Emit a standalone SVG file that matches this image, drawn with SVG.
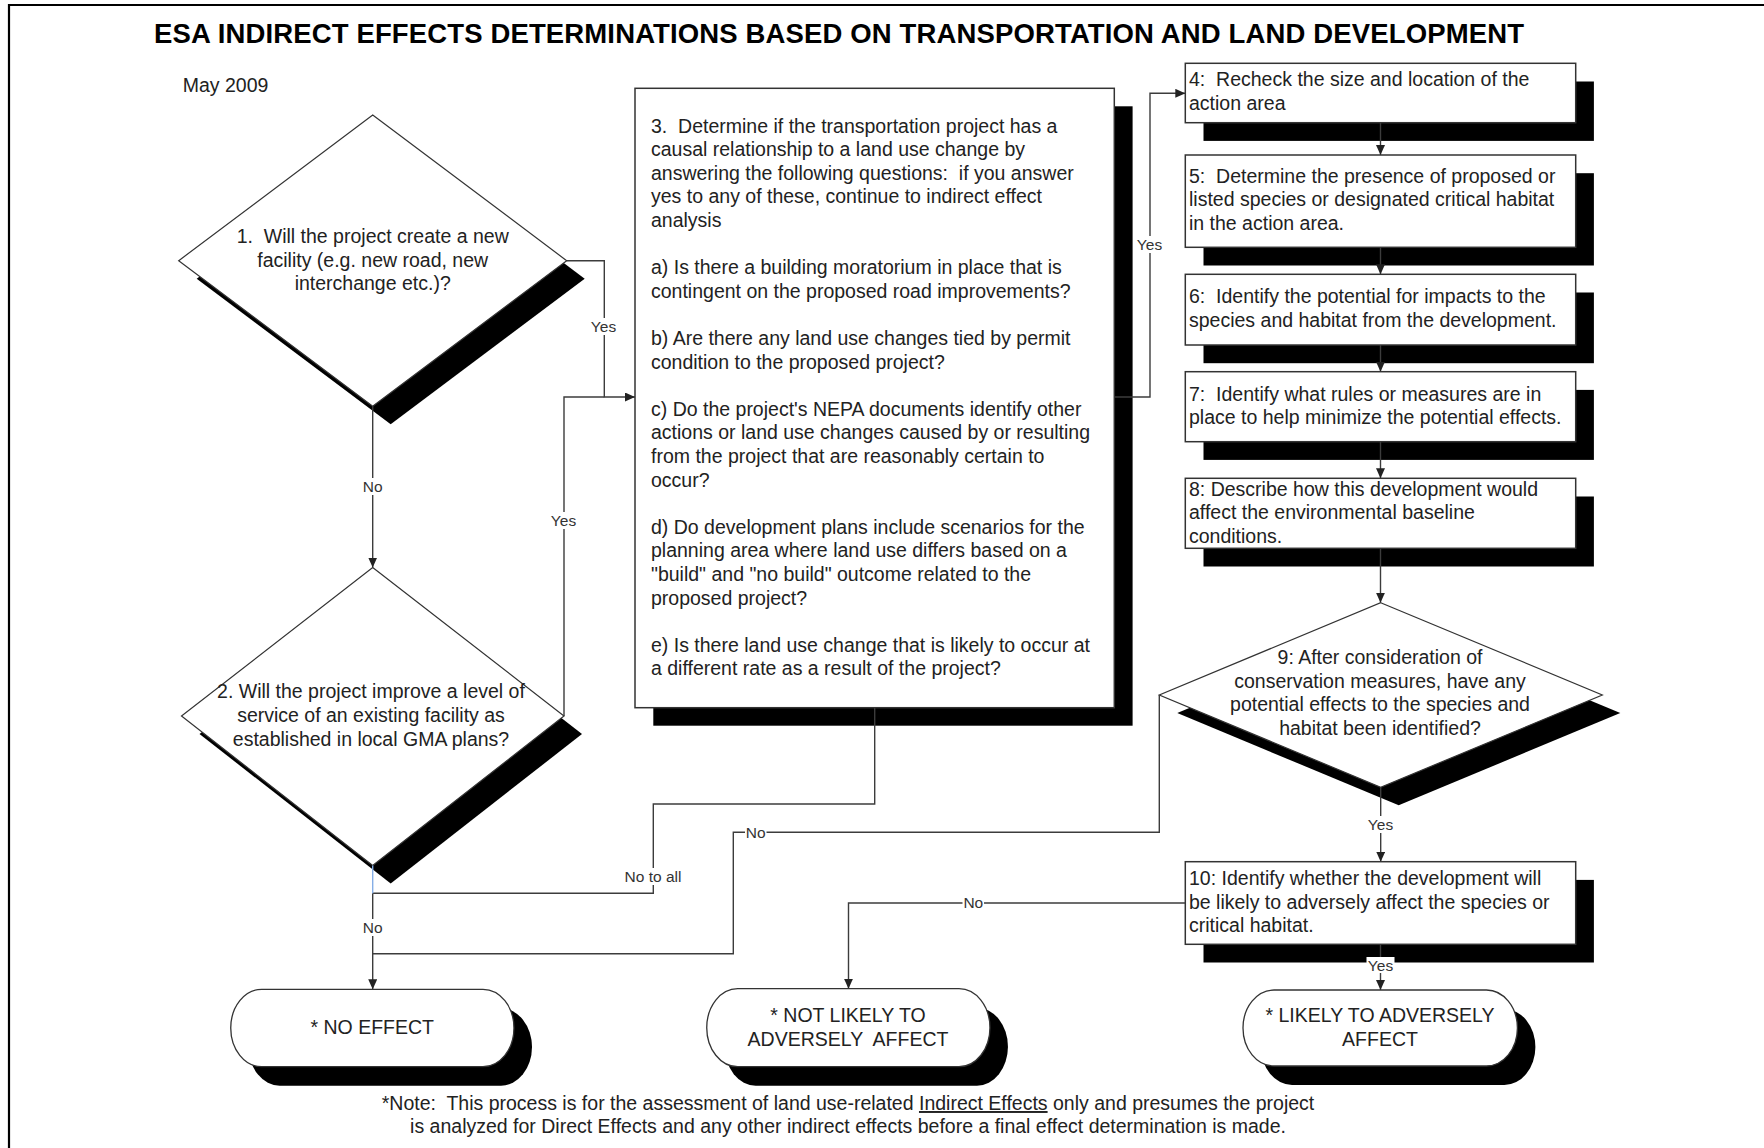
<svg xmlns="http://www.w3.org/2000/svg" width="1764" height="1148" viewBox="0 0 1764 1148">
<style>
.bg{fill:#fff}
.frame{fill:none;stroke:#000;stroke-width:2.2}
.box{fill:#fff;stroke:#333;stroke-width:1.5}
.shd{fill:#000}
.t{font-family:"Liberation Sans",Arial,sans-serif;font-size:19.5px;fill:#222;white-space:pre}
.c{text-anchor:middle}
.title{font-family:"Liberation Sans",Arial,sans-serif;font-size:27.5px;font-weight:bold;fill:#000;text-anchor:middle}
.conn{fill:none;stroke:#3c3c3c;stroke-width:1.4}
.lblbg{fill:#fff}
.lbl{font-family:"Liberation Sans",Arial,sans-serif;font-size:15.5px;fill:#333;text-anchor:middle}
</style>
<defs>
<marker id="arr" markerUnits="userSpaceOnUse" markerWidth="10" markerHeight="9" refX="10" refY="4.5" orient="auto">
<path d="M0,0 L10,4.5 L0,9 z" fill="#222"/>
</marker>
</defs>
<rect class="bg" x="0" y="0" width="1764" height="1148"/>
<path class="frame" d="M9,1148 V5 H1764"/>
<text class="title" x="839" y="42.5" textLength="1370">ESA INDIRECT EFFECTS DETERMINATIONS BASED ON TRANSPORTATION AND LAND DEVELOPMENT</text>
<text class="t" x="182.7" y="91.5">May 2009</text>

<g id="node-1">
<polygon class="shd" points="390.7,133 584.7,278.7 390.7,424.3 196.7,278.7"/>
<polygon class="box" points="372.7,115 566.7,260.7 372.7,406.3 178.7,260.7" style="stroke-width:1.2"/>
<text class="t c" x="372.7" y="243">1.  Will the project create a new</text>
<text class="t c" x="372.7" y="266.6">facility (e.g. new road, new</text>
<text class="t c" x="372.7" y="290.2">interchange etc.)?</text>
</g>

<g id="node-2">
<polygon class="shd" points="390.7,585.5 582,734 390.7,883.5 199.5,734"/>
<polygon class="box" points="372.7,567.5 564,716 372.7,865.5 181.5,716" style="stroke-width:1.2"/>
<text class="t c" x="371" y="698.3">2. Will the project improve a level of</text>
<text class="t c" x="371" y="721.9">service of an existing facility as</text>
<text class="t c" x="371" y="745.5">established in local GMA plans?</text>
</g>

<g id="node-3">
<rect class="shd" x="653.3" y="106.3" width="479.3" height="619.4"/>
<rect class="box" x="635" y="88.3" width="479.3" height="619.4"/>
<text class="t" x="651" y="132.5">3.  Determine if the transportation project has a</text>
<text class="t" x="651" y="156.1">causal relationship to a land use change by</text>
<text class="t" x="651" y="179.7">answering the following questions:  if you answer</text>
<text class="t" x="651" y="203.3">yes to any of these, continue to indirect effect</text>
<text class="t" x="651" y="226.9">analysis</text>
<text class="t" x="651" y="274.1">a) Is there a building moratorium in place that is</text>
<text class="t" x="651" y="297.7">contingent on the proposed road improvements?</text>
<text class="t" x="651" y="344.9">b) Are there any land use changes tied by permit</text>
<text class="t" x="651" y="368.5">condition to the proposed project?</text>
<text class="t" x="651" y="415.7">c) Do the project's NEPA documents identify other</text>
<text class="t" x="651" y="439.3">actions or land use changes caused by or resulting</text>
<text class="t" x="651" y="462.9">from the project that are reasonably certain to</text>
<text class="t" x="651" y="486.5">occur?</text>
<text class="t" x="651" y="533.7">d) Do development plans include scenarios for the</text>
<text class="t" x="651" y="557.3">planning area where land use differs based on a</text>
<text class="t" x="651" y="580.9">"build" and "no build" outcome related to the</text>
<text class="t" x="651" y="604.5">proposed project?</text>
<text class="t" x="651" y="651.7">e) Is there land use change that is likely to occur at</text>
<text class="t" x="651" y="675.3">a different rate as a result of the project?</text>
</g>

<g id="node-4">
<rect class="shd" x="1203.5" y="81.5" width="390.4" height="59.4"/>
<rect class="box" x="1185.3" y="63.3" width="390.4" height="59.4"/>
<text class="t" x="1189" y="86">4:  Recheck the size and location of the</text>
<text class="t" x="1189" y="109.6">action area</text>
</g>

<g id="node-5">
<rect class="shd" x="1203.5" y="173.2" width="390.4" height="92.3"/>
<rect class="box" x="1185.3" y="155" width="390.4" height="92.3"/>
<text class="t" x="1189" y="182.7">5:  Determine the presence of proposed or</text>
<text class="t" x="1189" y="206.3">listed species or designated critical habitat</text>
<text class="t" x="1189" y="229.9">in the action area.</text>
</g>

<g id="node-6">
<rect class="shd" x="1203.5" y="292.5" width="390.4" height="70.7"/>
<rect class="box" x="1185.3" y="274.3" width="390.4" height="70.7"/>
<text class="t" x="1189" y="303.3">6:  Identify the potential for impacts to the</text>
<text class="t" x="1189" y="326.9">species and habitat from the development.</text>
</g>

<g id="node-7">
<rect class="shd" x="1203.5" y="389.9" width="390.4" height="70"/>
<rect class="box" x="1185.3" y="371.7" width="390.4" height="70"/>
<text class="t" x="1189" y="400.7">7:  Identify what rules or measures are in</text>
<text class="t" x="1189" y="424.3">place to help minimize the potential effects.</text>
</g>

<g id="node-8">
<rect class="shd" x="1203.5" y="496.5" width="390.4" height="70"/>
<rect class="box" x="1185.3" y="478.3" width="390.4" height="70"/>
<text class="t" x="1189" y="495.5">8: Describe how this development would</text>
<text class="t" x="1189" y="519.1">affect the environmental baseline</text>
<text class="t" x="1189" y="542.5">conditions.</text>
</g>

<g id="node-9">
<polygon class="shd" points="1398.7,620.7 1620.3,713 1398.7,805.3 1177.3,713"/>
<polygon class="box" points="1380.7,602.7 1602.3,695 1380.7,787.3 1159.3,695" style="stroke-width:1.2"/>
<text class="t c" x="1380" y="664">9: After consideration of</text>
<text class="t c" x="1380" y="687.6">conservation measures, have any</text>
<text class="t c" x="1380" y="711.2">potential effects to the species and</text>
<text class="t c" x="1380" y="734.8">habitat been identified?</text>
</g>

<g id="node-10">
<rect class="shd" x="1203.5" y="879.9" width="390.4" height="82.6"/>
<rect class="box" x="1185.3" y="861.7" width="390.4" height="82.6"/>
<text class="t" x="1189" y="885">10: Identify whether the development will</text>
<text class="t" x="1189" y="908.6">be likely to adversely affect the species or</text>
<text class="t" x="1189" y="932.2">critical habitat.</text>
</g>

<g id="end-no-effect">
<path class="shd" d="M279.7,1008.3 H501 A31,38.7 0 0 1 501,1085.7 H279.7 A31,38.7 0 0 1 279.7,1008.3 Z"/>
<path class="box" d="M261.7,989.3 H483 A31,38.7 0 0 1 483,1066.7 H261.7 A31,38.7 0 0 1 261.7,989.3 Z" style="stroke-width:1.3"/>
<text class="t c" x="372.3" y="1034">* NO EFFECT</text>
</g>

<g id="end-not-likely">
<path class="shd" d="M755.7,1007.7 H977 A31,39 0 0 1 977,1085.7 H755.7 A31,39 0 0 1 755.7,1007.7 Z"/>
<path class="box" d="M737.7,988.7 H959 A31,39 0 0 1 959,1066.7 H737.7 A31,39 0 0 1 737.7,988.7 Z" style="stroke-width:1.3"/>
<text class="t c" x="848" y="1021.7">* NOT LIKELY TO</text>
<text class="t c" x="848" y="1045.5">ADVERSELY  AFFECT</text>
</g>

<g id="end-likely">
<path class="shd" d="M1292,1009 H1504.4 A31,38 0 0 1 1504.4,1085 H1292 A31,38 0 0 1 1292,1009 Z"/>
<path class="box" d="M1274,990 H1486.4 A31,38 0 0 1 1486.4,1066 H1274 A31,38 0 0 1 1274,990 Z" style="stroke-width:1.3"/>
<text class="t c" x="1380" y="1022.3">* LIKELY TO ADVERSELY</text>
<text class="t c" x="1380" y="1045.9">AFFECT</text>
</g>

<g id="connectors">
<path class="conn" d="M372.7,406.3 V567.5" marker-end="url(#arr)"/>
<path class="conn" d="M566.7,260.7 H604.3 V397 H635" marker-end="url(#arr)"/>
<path class="conn" d="M564,716 V397 H604.3"/>
<path class="conn" d="M1114.3,397 H1150 V93.3 H1185.3" marker-end="url(#arr)"/>
<path class="conn" d="M1380.5,122.7 V155" marker-end="url(#arr)"/>
<path class="conn" d="M1380.5,247.3 V274.3" marker-end="url(#arr)"/>
<path class="conn" d="M1380.5,345 V371.7" marker-end="url(#arr)"/>
<path class="conn" d="M1380.5,441.7 V478.3" marker-end="url(#arr)"/>
<path class="conn" d="M1380.5,548.3 V602.7" marker-end="url(#arr)"/>
<path class="conn" d="M1380.7,787.3 V861.7" marker-end="url(#arr)"/>
<path class="conn" d="M1380.5,944.3 V990" marker-end="url(#arr)"/>
<path class="conn" d="M874.7,707.7 V804 H653.3 V893.3 H372.7"/>
<path class="conn" d="M1159.3,695 V832.3 H733.3 V953.7 H372.7"/>
<path class="conn" d="M1185.3,903 H848.5 V988.7" marker-end="url(#arr)"/>
<path class="conn" d="M372.7,893.3 V989.3" marker-end="url(#arr)"/>
<path class="conn" d="M372.7,865.5 V893.3" style="stroke:#86aee6"/>
<rect class="lblbg" x="362" y="478" width="21.5" height="17"/>
<text class="lbl" x="372.7" y="491.5">No</text>
<rect class="lblbg" x="589.5" y="318" width="28" height="17"/>
<text class="lbl" x="603.5" y="332">Yes</text>
<rect class="lblbg" x="549.5" y="512" width="28" height="17"/>
<text class="lbl" x="563.5" y="526">Yes</text>
<rect class="lblbg" x="1135.5" y="236" width="28" height="17"/>
<text class="lbl" x="1149.5" y="250">Yes</text>
<rect class="lblbg" x="624" y="868" width="58" height="17"/>
<text class="lbl" x="653" y="882.2">No to all</text>
<rect class="lblbg" x="362" y="919" width="21.5" height="17"/>
<text class="lbl" x="372.7" y="932.8">No</text>
<rect class="lblbg" x="745" y="824" width="21.5" height="17"/>
<text class="lbl" x="755.7" y="837.8">No</text>
<rect class="lblbg" x="962.5" y="894" width="21.5" height="17"/>
<text class="lbl" x="973.3" y="908">No</text>
<rect class="lblbg" x="1366.5" y="816" width="28" height="17"/>
<text class="lbl" x="1380.5" y="829.8">Yes</text>
<rect class="lblbg" x="1366.5" y="957" width="28" height="16"/>
<text class="lbl" x="1380.5" y="970.5">Yes</text>
</g>

<text class="t c" x="848" y="1110">*Note:  This process is for the assessment of land use-related <tspan text-decoration="underline">Indirect Effects</tspan> only and presumes the project</text>
<text class="t c" x="848" y="1133.3">is analyzed for Direct Effects and any other indirect effects before a final effect determination is made.</text>
</svg>
